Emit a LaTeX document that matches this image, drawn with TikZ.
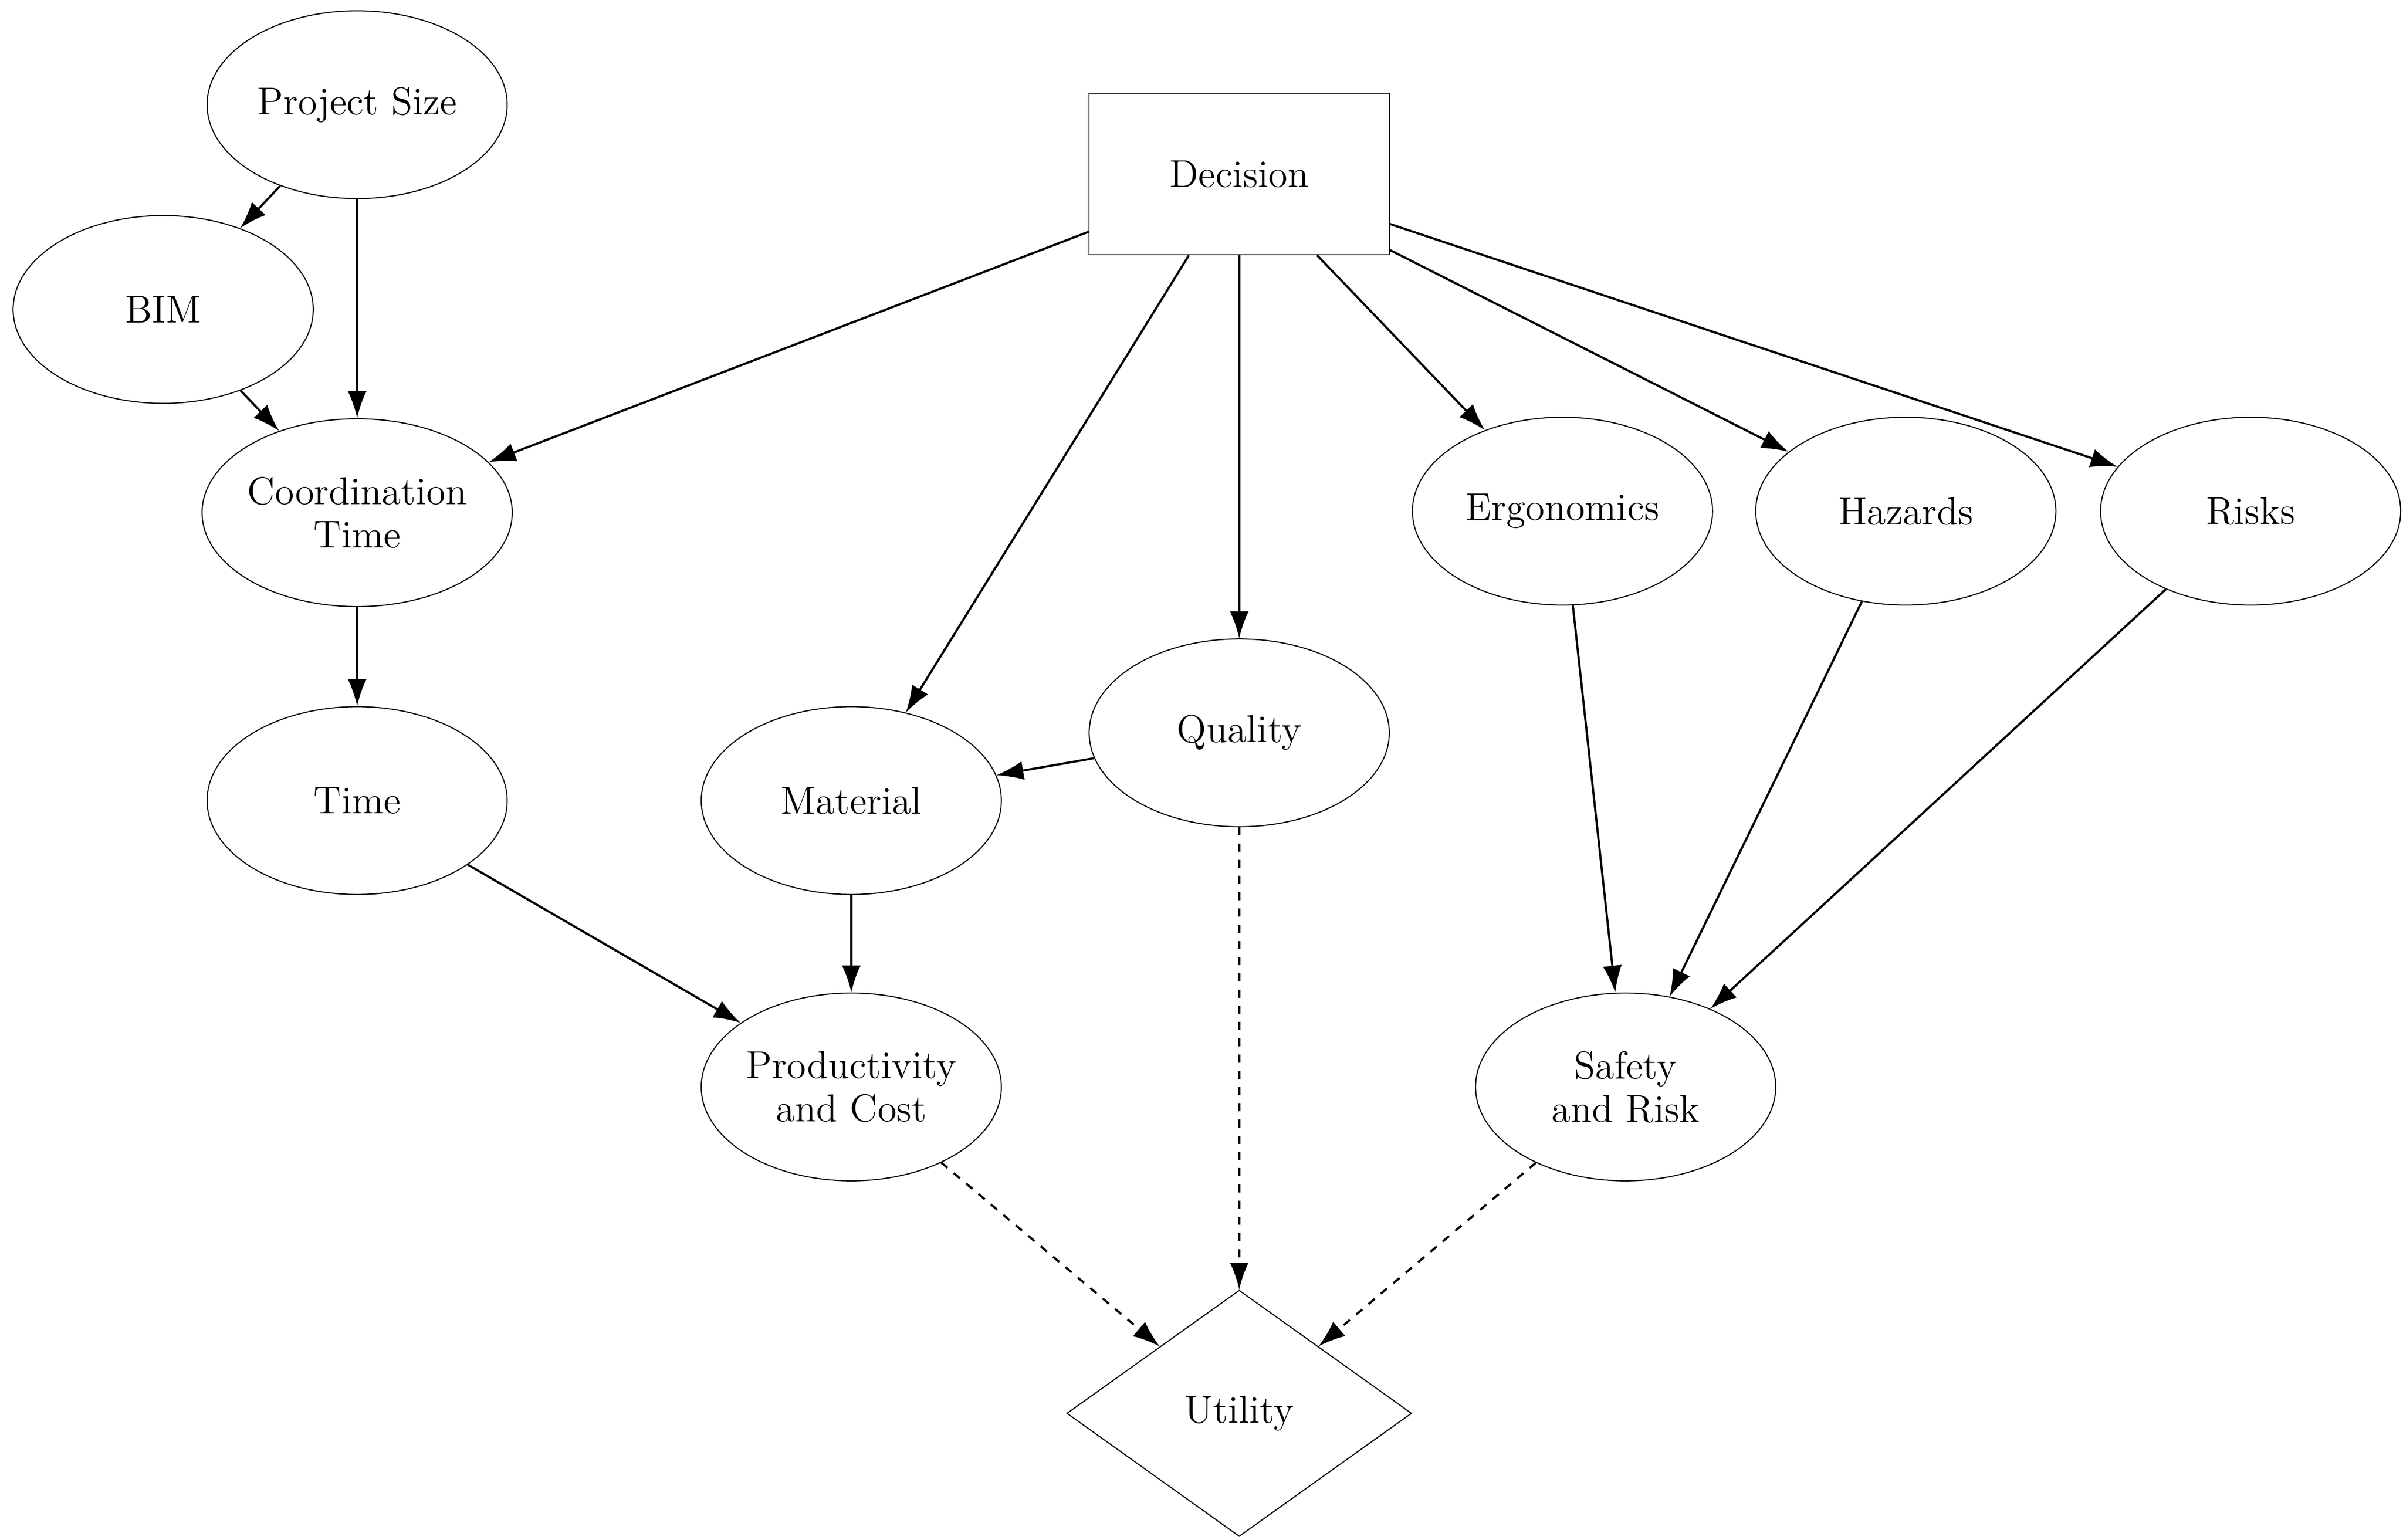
\documentclass[tikz,border=0pt]{standalone}
\usetikzlibrary{shapes.geometric,arrows.meta}
\tikzset{
  chance/.style={ellipse, draw, minimum width=3.9cm, minimum height=2.44cm, align=center, font=\Large, inner sep=0pt},
  decision/.style={rectangle, draw, minimum width=3.9cm, minimum height=2.1cm, font=\Large},
  utility/.style={diamond, draw, minimum width=4.48cm, minimum height=3.2cm, font=\Large, inner sep=0pt},
  link/.style={-{Latex[length=10pt,width=7pt]}, thick},
}
\begin{document}
\begin{tikzpicture}[x=0.02cm, y=-0.02cm]
\useasboundingbox (0,0) rectangle (1561,1000);
% nodes
\node[chance] (size) at (232, 68) {Project Size};
\node[chance] (bim) at (106, 201) {BIM};
\node[chance] (coord) at (232, 333) {Coordination\\[-2pt]Time};
\node[chance] (time) at (232, 520) {Time};
\node[decision] (dec) at (805, 113) {Decision};
\node[chance] (mat) at (553, 520) {Material};
\node[chance] (qual) at (805, 476) {Quality};
\node[chance] (ergo) at (1015, 332) {Ergonomics};
\node[chance] (haz) at (1238, 332) {Hazards};
\node[chance] (risk) at (1462, 332) {Risks};
\node[chance] (prod) at (553, 706) {Productivity\\[-2pt]and Cost};
\node[chance] (safe) at (1056, 706) {Safety\\[-2pt]and Risk};
\node[utility] (util) at (805, 918) {Utility};
% arrows
\draw[link] (size) -- (bim);
\draw[link] (size) -- (coord);
\draw[link] (bim) -- (coord);
\draw[link] (dec) -- (coord);
\draw[link] (dec) -- (mat);
\draw[link] (dec) -- (qual);
\draw[link] (dec) -- (ergo);
\draw[link] (dec) -- (haz);
\draw[link] (dec) -- (risk);
\draw[link] (coord) -- (time);
\draw[link] (qual) -- (mat);
\draw[link] (time) -- (prod);
\draw[link] (mat) -- (prod);
\draw[link] (ergo) -- (safe);
\draw[link] (haz) -- (safe);
\draw[link] (risk) -- (safe);
\draw[link, dashed] (prod) -- (util);
\draw[link, dashed] (qual) -- (util);
\draw[link, dashed] (safe) -- (util);
\end{tikzpicture}
\end{document}
